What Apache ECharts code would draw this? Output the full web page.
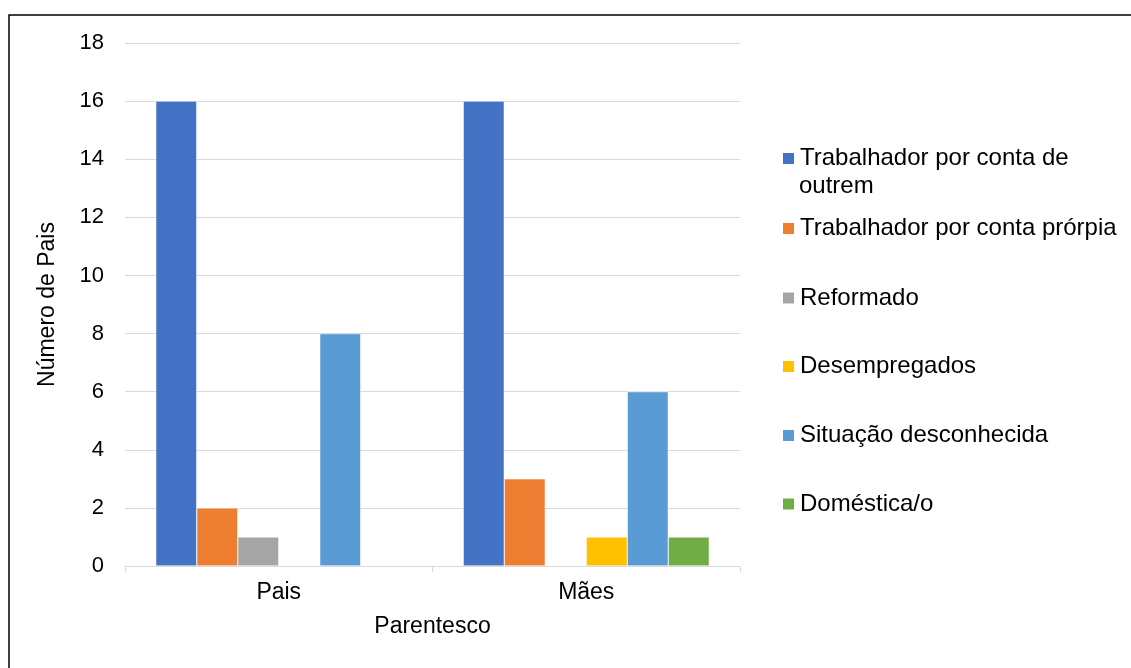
<!DOCTYPE html>
<html>
<head>
<meta charset="utf-8">
<script src="https://cdn.jsdelivr.net/npm/echarts@6/dist/echarts.min.js"></script>
<style>
html,body{margin:0;padding:0;background:#fff;}
#c{width:1131px;height:668px;}
</style>
</head>
<body>
<div id="c"></div>
<script>
const categories = ['Pais', 'Mães'];
const seriesNames = [
  'Trabalhador por conta de outrem',
  'Trabalhador por conta prórpia',
  'Reformado',
  'Desempregados',
  'Situação desconhecida',
  'Doméstica/o'
];
const contaOutrem = [16, 16];
const contaPropria = [2, 3];
const reformado = [1, '-'];
const desempregados = ['-', 1];
const desconhecida = [8, 6];
const domestica = ['-', 1];
const yTicks = [0, 2, 4, 6, 8, 10, 12, 14, 16, 18];
const colors = ['#4472C4', '#ED7D31', '#A5A5A5', '#FFC000', '#5B9BD5', '#70AD47'];

const values = [contaOutrem, contaPropria, reformado, desempregados, desconhecida, domestica];
const FONT = "'Liberation Sans', Arial, sans-serif";

const chart = echarts.init(document.getElementById('c'));
const legendCenters = [158.5, 228.5, 298, 366.5, 435.5, 504];

chart.setOption({
  animation: false,
  backgroundColor: '#fff',
  textStyle: { fontFamily: FONT },
  grid: { left: 125, right: 391, top: 43, bottom: 102, containLabel: false },
  legend: seriesNames.map((n, i) => ({
    data: [n],
    orient: 'vertical',
    left: 781,
    top: legendCenters[i] - 13,
    padding: 0,
    itemWidth: 13,
    itemHeight: 13,
    icon: 'rect',
    selectedMode: false,
    formatter: i === 0 ? 'Trabalhador por conta de' : '{name}',
    textStyle: { fontSize: 24, color: '#000', fontFamily: FONT, lineHeight: 26 }
  })),
  graphic: [
    {
      type: 'text', left: 799, top: 186 - 13,
      style: { text: 'outrem', font: '24px ' + FONT, fill: '#000', lineHeight: 26, verticalAlign: 'top' }
    },
    {
      type: 'rect', shape: { x: 9, y: 15, width: 1300, height: 800 },
      style: { fill: 'none', stroke: '#000', lineWidth: 1.5 }, silent: true, z: 100
    }
  ],
  xAxis: {
    type: 'category',
    data: categories,
    name: 'Parentesco',
    nameLocation: 'middle',
    nameGap: 49,
    nameTextStyle: { fontSize: 23, color: '#000', fontFamily: FONT },
    axisLine: { lineStyle: { color: '#D9D9D9', width: 1 } },
    axisTick: { show: true, length: 6, lineStyle: { color: '#D9D9D9' } },
    axisLabel: { fontSize: 23, color: '#000', margin: 15, fontFamily: FONT }
  },
  yAxis: {
    type: 'value',
    min: 0, max: 18, interval: 2,
    name: 'Número de Pais',
    nameLocation: 'middle',
    nameRotate: 90,
    nameGap: 66,
    nameTextStyle: { fontSize: 23, color: '#000', fontFamily: FONT },
    axisLine: { show: false },
    axisTick: { show: false },
    splitLine: { lineStyle: { color: '#D9D9D9', width: 1 } },
    axisLabel: {
      fontSize: 22, color: '#000', margin: 21, fontFamily: FONT,
      formatter: v => (yTicks.indexOf(v) >= 0 ? String(v) : '')
    }
  },
  series: seriesNames.map((n, i) => ({
    name: n,
    type: 'bar',
    data: values[i],
    barGap: '0%',
    barCategoryGap: '20%',
    itemStyle: { color: colors[i], borderColor: '#fff', borderWidth: 0.5 }
  }))
});
</script>
</body>
</html>
